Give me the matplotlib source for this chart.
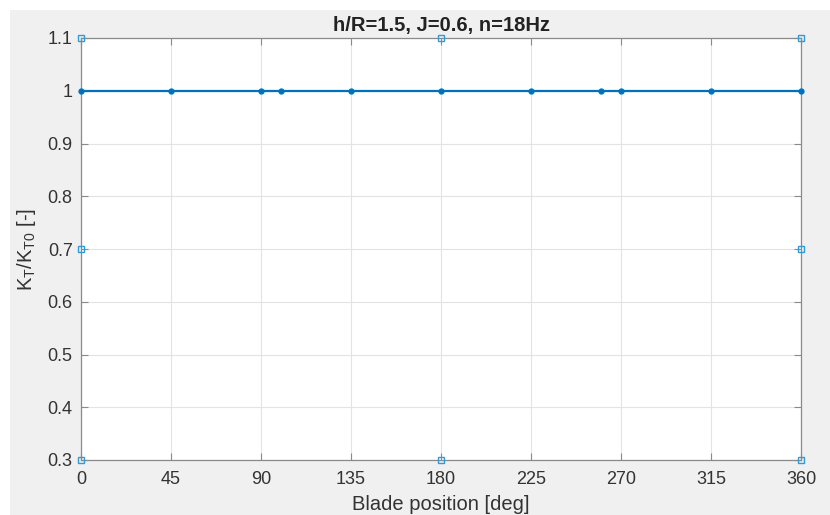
import matplotlib

matplotlib.use("Agg")

import matplotlib.pyplot as plt
from matplotlib.patches import Rectangle

# blade positions and normalised thrust
blade_pos = [0, 45, 90, 100, 135, 180, 225, 260, 270, 315, 360]
kt_ratio = [1, 1, 1, 1, 1, 1, 1, 1, 1, 1, 1]

# separate square-marker points
sq_x = [0, 0, 0, 180, 180, 360, 360, 360]
sq_y = [1.1, 0.7, 0.3, 1.1, 0.3, 1.1, 0.7, 0.3]

x_ticks = [0, 45, 90, 135, 180, 225, 270, 315, 360]
y_ticks = [0.3, 0.4, 0.5, 0.6, 0.7, 0.8, 0.9, 1.0, 1.1]
y_labels = ["0.3", "0.4", "0.5", "0.6", "0.7", "0.8", "0.9", "1", "1.1"]

plt.rcParams["font.family"] = ["Liberation Sans", "DejaVu Sans"]
plt.rcParams["mathtext.fontset"] = "custom"
plt.rcParams["mathtext.rm"] = "Liberation Sans"

W, H = 830, 515
fig = plt.figure(figsize=(W / 100, H / 100), dpi=100, facecolor="white")
fig.patches.append(Rectangle((10 / W, 0), 1, 1 - 10 / H, transform=fig.transFigure,
                             facecolor="#F0F0F0", edgecolor="none", zorder=-10))

ax = fig.add_axes([81 / W, 1 - 460 / H, (801 - 81) / W, (460 - 38) / H])
ax.set_zorder(1)
ax.set_facecolor("white")

ax.plot(blade_pos, kt_ratio, color="#0072BD", linewidth=1.6, marker="o",
        markersize=3.5, zorder=3, clip_on=False)
ax.plot(sq_x, sq_y, linestyle="none", marker="s", markersize=4,
        markerfacecolor="none", markeredgecolor="#2F9BD8", markeredgewidth=1.0,
        zorder=4, clip_on=False)

ax.set_xlim(0, 360)
ax.set_ylim(0.3, 1.1)
ax.set_xticks(x_ticks)
ax.set_yticks(y_ticks, y_labels)
ax.grid(True, color="#E3E3E3", linewidth=0.8)
ax.set_axisbelow(True)

for side in ax.spines.values():
    side.set_color("#8A8A8A")
    side.set_linewidth(0.9)
ax.tick_params(direction="in", length=5, width=0.8, color="#8A8A8A",
               labelsize=13, labelcolor="#333333", top=True, right=True)
ax.tick_params(axis="x", pad=8)
ax.tick_params(axis="y", pad=6)

ax.set_title("h/R=1.5, J=0.6, n=18Hz", fontsize=14.5, fontweight="bold",
             color="#222222", pad=5)
ax.set_xlabel("Blade position [deg]", fontsize=14.5, color="#333333", labelpad=5)
ax.set_ylabel(r"K$_\mathregular{T}$/K$_\mathregular{T0}$ [-]", fontsize=14.5,
              color="#333333", labelpad=7)

fig.savefig("out.png", dpi=100, facecolor=fig.get_facecolor())
